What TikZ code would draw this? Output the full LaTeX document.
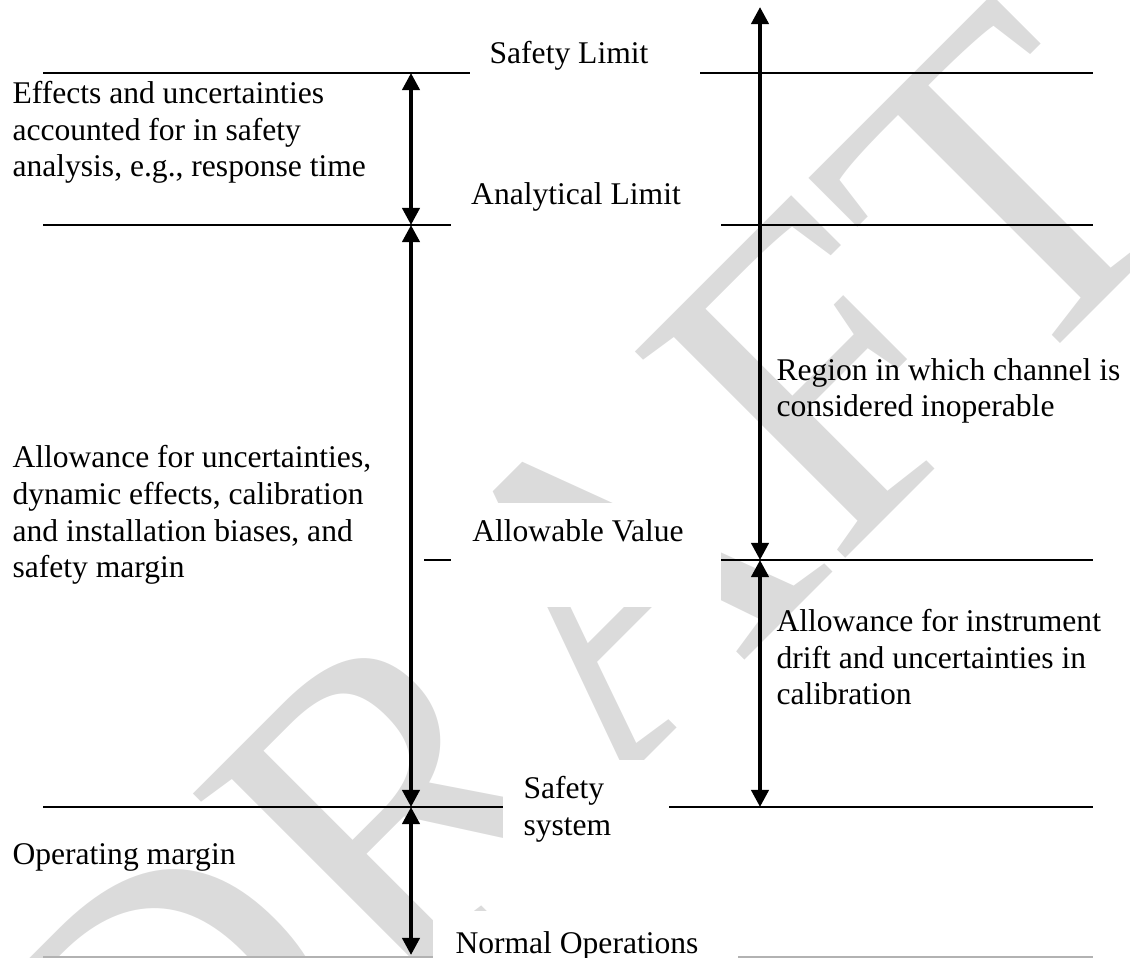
\documentclass[tikz,border=0pt]{standalone}
\usepackage{fontspec}
\setmainfont{Liberation Serif}
\usetikzlibrary{arrows.meta}
\tikzset{
	level/.style={line width=0.75pt},
	dimarrow/.style={{Triangle[width=6.5pt,length=6.5pt]}-{Triangle[width=6.5pt,length=6.5pt]},line width=1.5pt},
	lbl/.style={inner sep=0pt,align=left,anchor=base west},
	limit/.style={inner sep=0pt,anchor=base},
	blank/.style={fill=white,draw=none},
}
\begin{document}
\begin{tikzpicture}[x=0.38pt,y=-0.38pt,font=\fontsize{12}{14}\selectfont]
		\useasboundingbox (0,0) rectangle (1130,958);
		% watermark
		\node[text=black!14,rotate=45,inner sep=0pt,font=\fontsize{171}{171}\selectfont] (draft) at (580,615) {DRAFT};
		% levels
		\coordinate (sl-l) at (43,73);   \coordinate (sl-r) at (1093,73);
		\coordinate (al-l) at (43,225);  \coordinate (al-r) at (1093,225);
		\coordinate (av-l) at (424,560); \coordinate (av-r) at (1093,560);
		\coordinate (ss-l) at (43,807);  \coordinate (ss-r) at (1093,807);
		\coordinate (no-l) at (43,957);  \coordinate (no-r) at (1093,957);
		\draw[level] (sl-l) -- (sl-r);
		\draw[level] (al-l) -- (al-r);
		\draw[level] (av-l) -- (av-r);
		\draw[level] (ss-l) -- (ss-r);
		\draw[level,black!30] (no-l) -- (no-r);
		% white boxes behind the level names
		\fill[blank] (470,30) rectangle (700,100);
		\fill[blank] (451,175) rectangle (721,240);
		\fill[blank] (451,503) rectangle (721,607);
		\fill[blank] (503,760) rectangle (669,856);
		\fill[blank] (433,911) rectangle (738,958);
		% level names
		\node[limit] (safetylimit) at (569,64) {Safety Limit};
		\node[limit] (analytical) at (576,205) {Analytical Limit};
		\node[limit] (allowable) at (578,542) {Allowable Value};
		\node[lbl] (safetysys) at (523,835) {Safety\\system};
		\node[lbl] (normalop) at (455,953) {Normal Operations};
		% left arrows
		\coordinate (l-top) at (411,73);
		\coordinate (l-al) at (411,225);
		\coordinate (l-ss) at (411,807);
		\coordinate (l-bot) at (411,955);
		\draw[dimarrow] (l-top) -- (l-al);
		\draw[dimarrow] (l-al) -- (l-ss);
		\draw[dimarrow] (l-ss) -- (l-bot);
		% right arrows
		\coordinate (r-top) at (760,7);
		\coordinate (r-av) at (760,560);
		\coordinate (r-ss) at (760,807);
		\draw[dimarrow] (r-top) -- (r-av);
		\draw[dimarrow] (r-av) -- (r-ss);
		% descriptions (anchored at the last line)
		\node[lbl] (effects) at (12,177) {Effects and uncertainties\\accounted for in safety\\analysis, e.g., response time};
		\node[lbl] (allowance) at (12,578) {Allowance for uncertainties,\\dynamic effects, calibration\\and installation biases, and\\safety margin};
		\node[lbl] (opmargin) at (12,865) {Operating margin};
		\node[lbl] (inoperable) at (776,417) {Region in which channel is\\considered inoperable};
		\node[lbl] (drift) at (776,705) {Allowance for instrument\\drift and uncertainties in\\calibration};
	\end{tikzpicture}
\end{document}
